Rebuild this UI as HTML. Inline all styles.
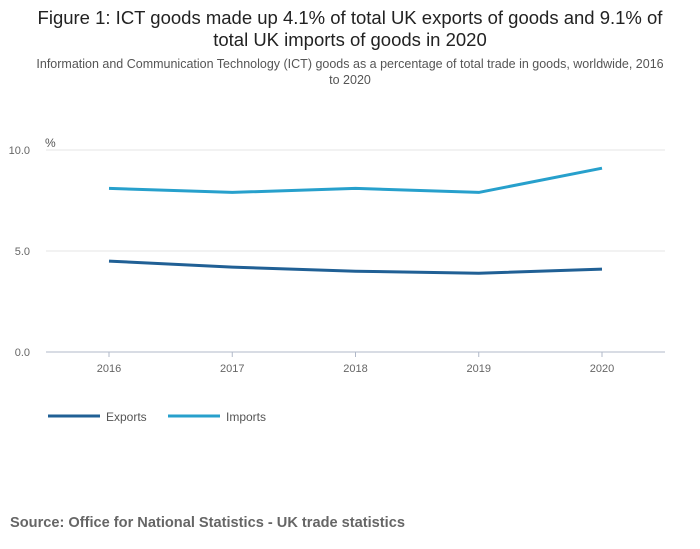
<!DOCTYPE html>
<html><head><meta charset="utf-8"><style>
body{margin:0;background:#fff;font-family:"Liberation Sans",sans-serif;}
#wrap{position:relative;width:700px;height:549px;overflow:hidden;}
</style></head><body>
<div id="wrap">
<svg id="chart" width="700" height="549">
<text x="350" y="24" text-anchor="middle" font-size="18.5" fill="#222">Figure 1: ICT goods made up 4.1% of total UK exports of goods and 9.1% of</text>
<text x="350" y="46" text-anchor="middle" font-size="18.5" fill="#222">total UK imports of goods in 2020</text>
<text x="350" y="68" text-anchor="middle" font-size="12.5" fill="#555">Information and Communication Technology (ICT) goods as a percentage of total trade in goods, worldwide, 2016</text>
<text x="350" y="84" text-anchor="middle" font-size="12.5" fill="#555">to 2020</text>
<text x="45" y="147" font-size="12" fill="#555">%</text>
<g id="grid"></g><g id="lines"></g>
<g>
<line x1="48" y1="416" x2="100" y2="416" stroke="#206095" stroke-width="3"/>
<text x="106" y="421" font-size="12" fill="#555">Exports</text>
<line x1="168" y1="416" x2="220" y2="416" stroke="#27a0cc" stroke-width="3"/>
<text x="226" y="421" font-size="12" fill="#555">Imports</text>
</g>
<text x="10" y="527" font-size="14.6" font-weight="bold" fill="#666">Source: Office for National Statistics - UK trade statistics</text>
</svg></div>
<script>
const years=["2016","2017","2018","2019","2020"];
const exportsVals=[4.5,4.2,4.0,3.9,4.1];
const importsVals=[8.1,7.9,8.1,7.9,9.1];
const yTicks=[0,5,10];
const yTickLabels=["0.0","5.0","10.0"];
const NS="http://www.w3.org/2000/svg";
function xs(i){return 109+i*123.25;}
function ys(v){return 352-v*20.2;}
const grid=document.getElementById('grid'),lines=document.getElementById('lines');
yTicks.forEach((t,i)=>{
 const l=document.createElementNS(NS,'line');
 l.setAttribute('x1',46);l.setAttribute('x2',665);l.setAttribute('y1',ys(t));l.setAttribute('y2',ys(t));
 l.setAttribute('stroke',t===0?'#b0b8c8':'#e4e4e4');
 
 
 grid.appendChild(l);
 const tx=document.createElementNS(NS,'text');
 tx.setAttribute('x',30);tx.setAttribute('y',ys(t)+4);tx.setAttribute('text-anchor','end');
 tx.setAttribute('font-size','11');tx.setAttribute('fill','#666');tx.textContent=yTickLabels[i];
 
 
 grid.appendChild(tx);
});
years.forEach((y,i)=>{
 const l=document.createElementNS(NS,'line');
 l.setAttribute('x1',xs(i));l.setAttribute('x2',xs(i));l.setAttribute('y1',352);l.setAttribute('y2',357);
 l.setAttribute('stroke','#b0b8c8');
 
 
 grid.appendChild(l);
 const tx=document.createElementNS(NS,'text');
 tx.setAttribute('x',xs(i));tx.setAttribute('y',372);tx.setAttribute('text-anchor','middle');
 tx.setAttribute('font-size','11');tx.setAttribute('fill','#666');tx.textContent=y;
 
 
 grid.appendChild(tx);
});
function draw(vals,color,name){
 const p=document.createElementNS(NS,'polyline');
 p.setAttribute('points',vals.map((v,i)=>xs(i)+','+ys(v)).join(' '));
 p.setAttribute('fill','none');p.setAttribute('stroke',color);p.setAttribute('stroke-width','3');
 p.setAttribute('stroke-linejoin','round');
 
 
 lines.appendChild(p);
}
draw(exportsVals,'#206095','exports-line');
draw(importsVals,'#27a0cc','imports-line');
</script>
</body></html>
